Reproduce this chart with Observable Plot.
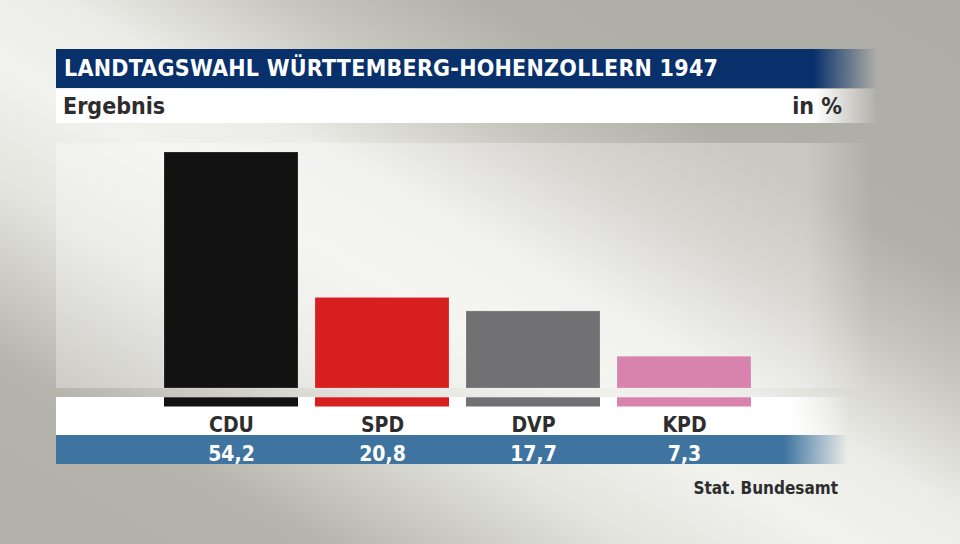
<!DOCTYPE html>
<html>
<head>
<meta charset="utf-8">
<script src="https://cdn.jsdelivr.net/npm/d3@7"></script>
<script src="https://cdn.jsdelivr.net/npm/@observablehq/plot@0.6"></script>
<style>
  html, body { margin: 0; padding: 0; }
  body { width: 960px; height: 544px; overflow: hidden; font-family: "DejaVu Sans Condensed", "DejaVu Sans", sans-serif; }
  #wrap {
    position: relative; width: 960px; height: 544px; overflow: hidden;
    background: linear-gradient(to top right, #b1afa7 0%, #b6b5ad 17%, #e4e4df 33%, #f1f1ed 44%, #ecece8 53%, #c6c5be 65%, #b1b0a8 75%, #aeada5 100%);
  }
  .abs { position: absolute; }
  #titlebar { left: 56px; top: 49px; width: 824px; height: 39px;
    background: linear-gradient(to right, #08306b 0, #08306b 757px, rgba(8,48,107,0) 821px); }
  #title { left: 64px; top: 49px; height: 39px; line-height: 39px; color: #fff; font-weight: bold; font-size: 23px; letter-spacing: 0.25px; white-space: nowrap; }
  #subbar { left: 56px; top: 89px; width: 824px; height: 34px;
    background: linear-gradient(to right, #fff 0, #fff 759px, rgba(255,255,255,0) 821px); }
  #subtitle { left: 63px; top: 89px; height: 34px; line-height: 34px; color: #2d2d2d; font-weight: bold; font-size: 23px; }
  #unit { right: 118px; top: 89px; height: 34px; line-height: 34px; color: #2d2d2d; font-weight: bold; font-size: 23px; }
  #panel { left: 56px; top: 143px; width: 904px; height: 245px;
    background: linear-gradient(to right, rgba(255,255,255,0.3) 0, rgba(255,255,255,0.3) 750px, rgba(255,255,255,0) 815px); }
  #whiteband { left: 56px; top: 397px; width: 800px; height: 38px;
    background: linear-gradient(to right, #fff 0, #fff 731px, rgba(255,255,255,0) 794px); }
  #blueband { left: 56px; top: 435px; width: 800px; height: 29px;
    background: linear-gradient(to right, #3f74a0 0, #3f74a0 728px, rgba(63,116,160,0) 792px); }
  #source { right: 122px; top: 478px; color: #2d2d2d; font-weight: bold; font-size: 17px; white-space: nowrap; }
  #chart { left: 0; top: 0; }
</style>
</head>
<body>
<div id="wrap">
  <div class="abs" id="panel"></div>
  <div class="abs" id="whiteband"></div>
  <div class="abs" id="blueband"></div>
  <div class="abs" id="titlebar"></div>
  <div class="abs" id="title">LANDTAGSWAHL WÜRTTEMBERG-HOHENZOLLERN 1947</div>
  <div class="abs" id="subbar"></div>
  <div class="abs" id="subtitle">Ergebnis</div>
  <div class="abs" id="unit">in %</div>
  <div class="abs" id="source">Stat. Bundesamt</div>
  <div class="abs" id="chart"></div>
</div>
<script>
const parties = ["CDU", "SPD", "DVP", "KPD"];
const values = [54.2, 20.8, 17.7, 7.3];
const colors = ["#121212", "#d81f1f", "#717173", "#d883ae"];

const data = parties.map((p, i) => ({party: p, value: values[i], color: colors[i]}));
const fmt = v => v.toFixed(1).replace(".", ",");

const chart = Plot.plot({
  width: 960,
  height: 544,
  marginTop: 152,
  marginBottom: 156,
  marginLeft: 164,
  marginRight: 209,
  style: {background: "transparent", fontFamily: "'DejaVu Sans Condensed', 'DejaVu Sans', sans-serif"},
  x: {domain: parties, paddingInner: 0.1126, paddingOuter: 0, axis: null},
  y: {domain: [0, d3.max(values)], axis: null},
  marks: [
    Plot.barY(data, {x: "party", y: "value", fill: "color", stroke: "#ffffff", strokeOpacity: 0.2, strokeWidth: 1}),
    Plot.tickY(data, {x: "party", y: 0, stroke: "color", strokeWidth: 9.3, dy: 13.35}),
    Plot.text(data, {x: "party", y: 0, text: "party", dy: 36.3, fontSize: 21, fontWeight: "bold", fill: "#2d2d2d"}),
    Plot.text(data, {x: "party", y: 0, text: d => fmt(d.value), dy: 65.3, fontSize: 21, fontWeight: "bold", fill: "#ffffff"})
  ]
});
document.getElementById("chart").appendChild(chart);
</script>
</body>
</html>
